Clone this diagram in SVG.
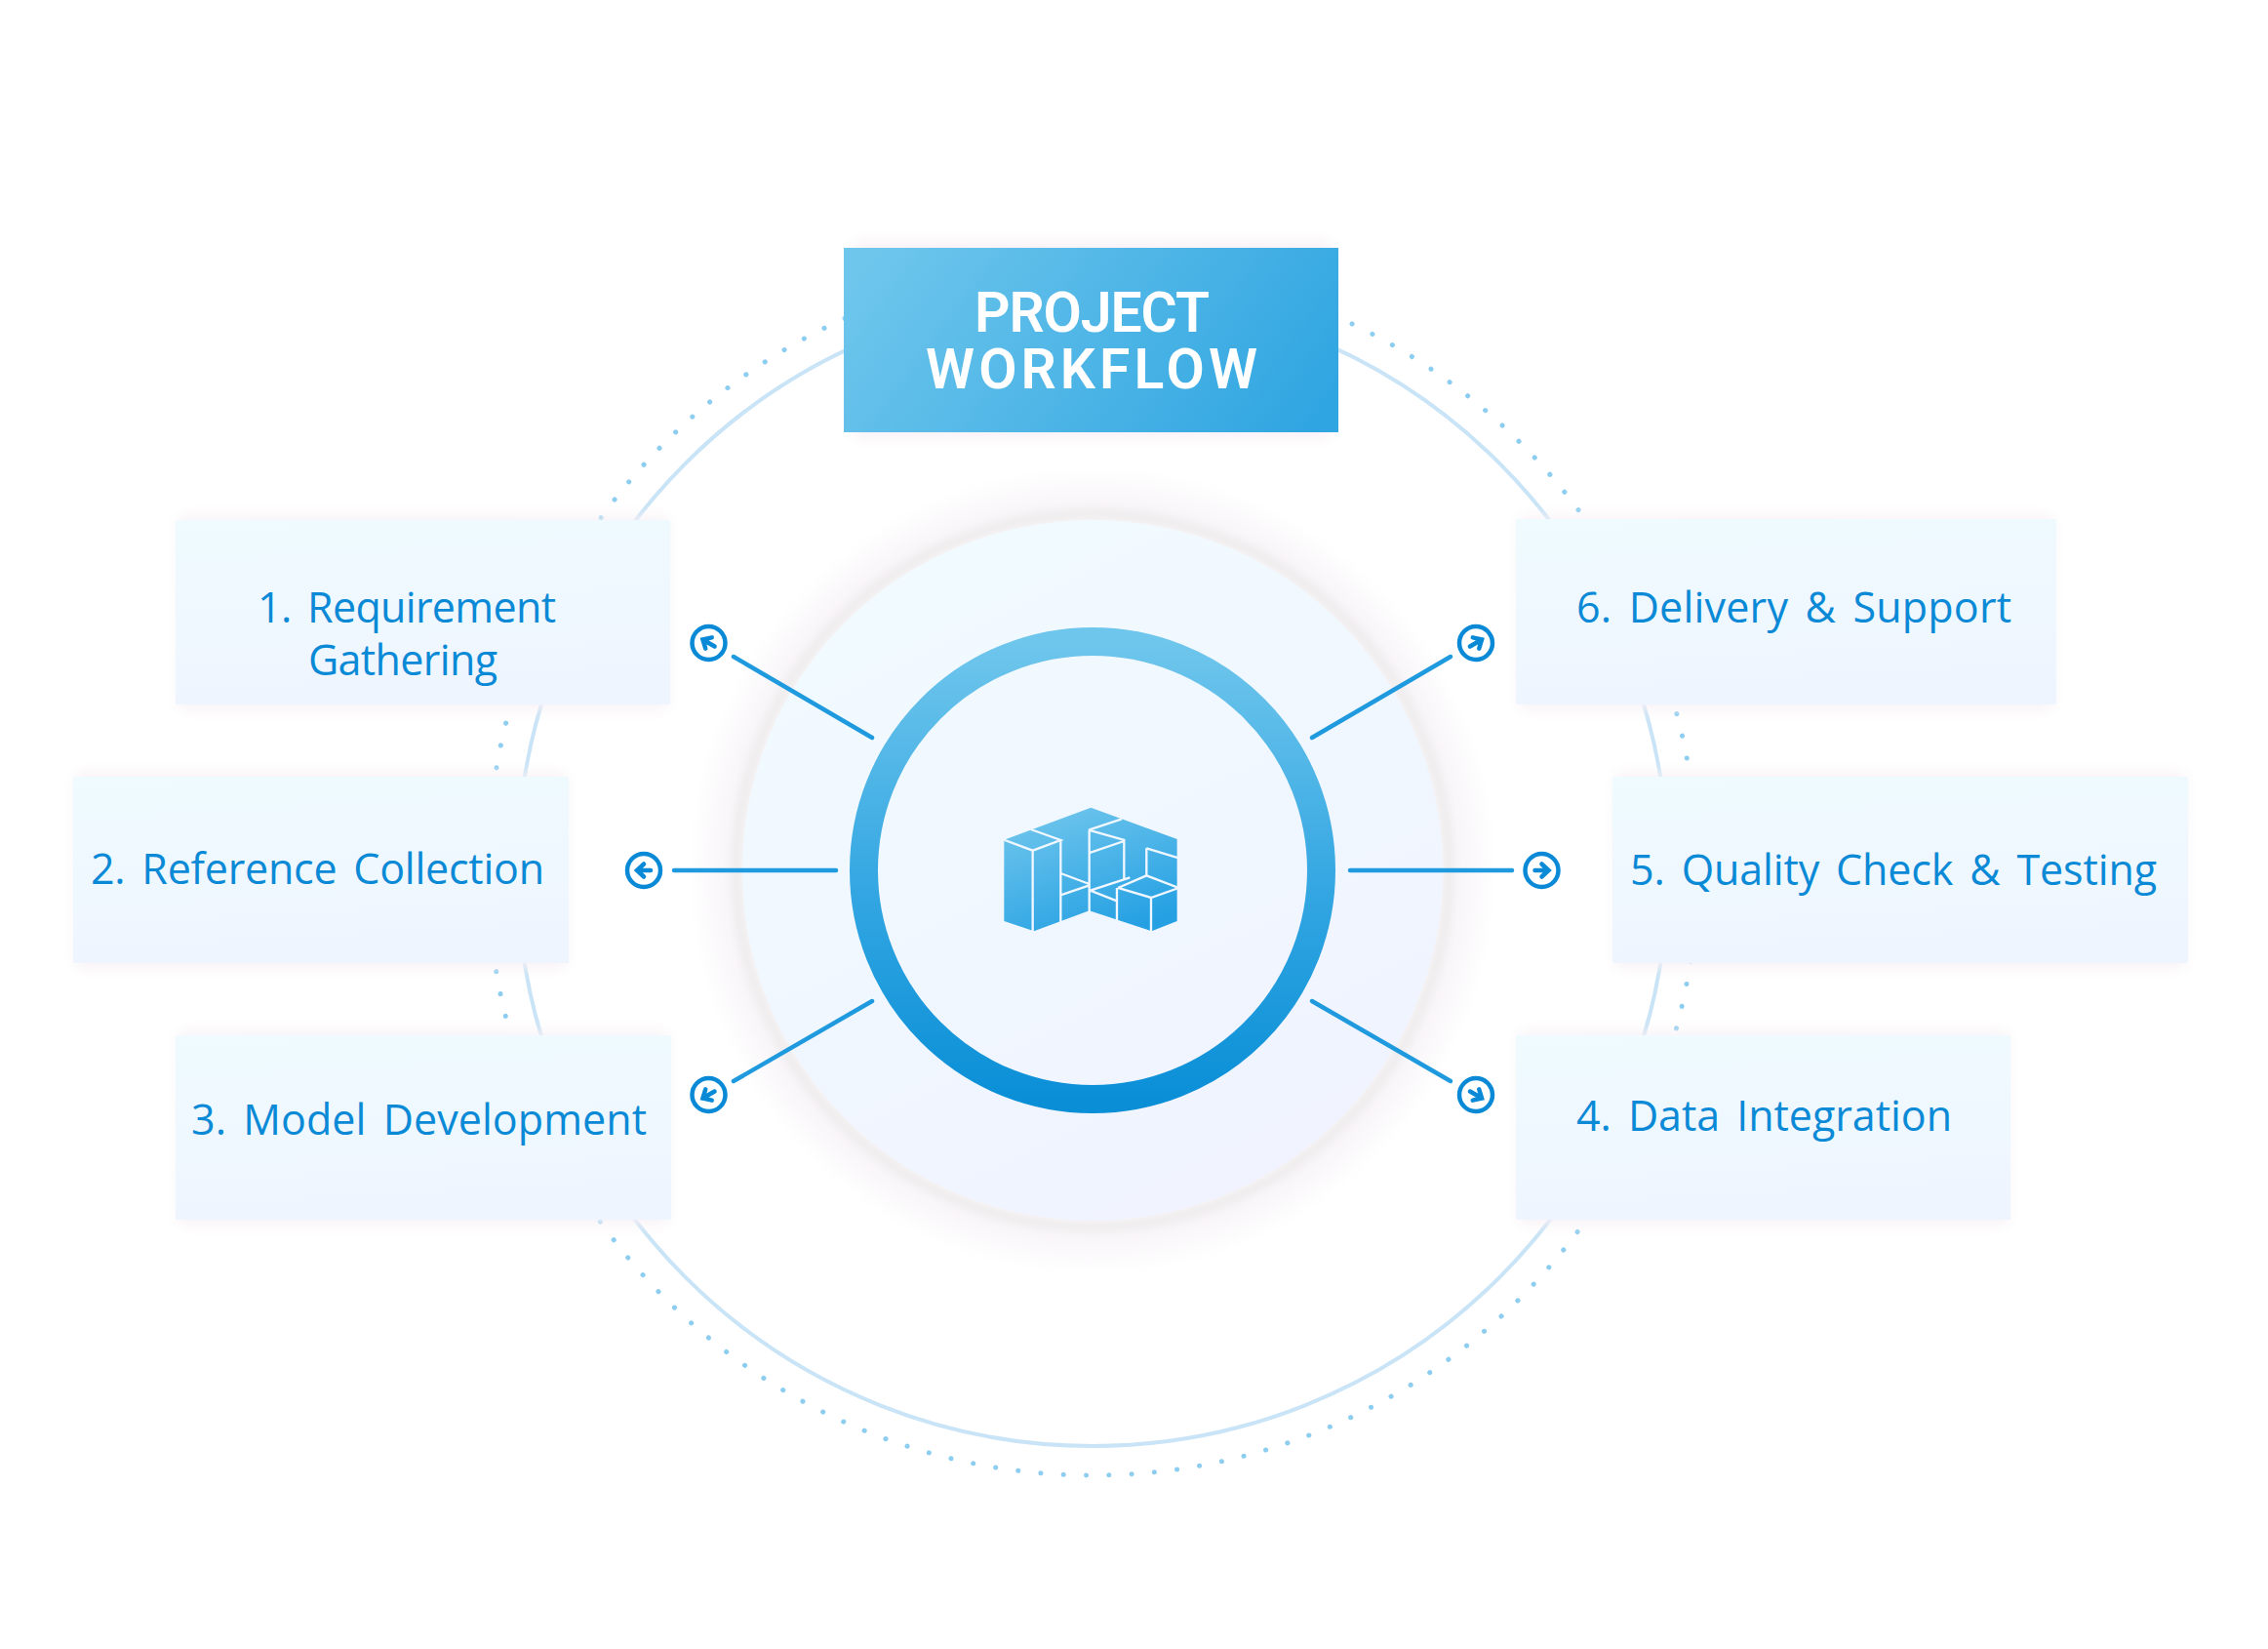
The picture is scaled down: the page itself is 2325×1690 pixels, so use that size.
<svg xmlns="http://www.w3.org/2000/svg" width="2325" height="1690" viewBox="0 0 2325 1690">
<style>
.lbl{font-family:"Open Sans","Noto Sans",sans-serif;font-size:43px;fill:#0a8ad6;font-weight:400;word-spacing:6px}
.ttl{font-family:Roboto,"Liberation Sans",sans-serif;font-size:57px;fill:#fff;font-weight:600}
.box{fill:url(#boxG)}
.shadow{fill:#f7f0f5;filter:url(#soft)}
.conn{stroke:#1f9ade;stroke-width:4.5;stroke-linecap:round;fill:none}
.tip{stroke:#0a8ad6;stroke-width:4.5;fill:#fff}
.arr{stroke:#0a8ad6;stroke-width:4.5;fill:none;stroke-linecap:round;stroke-linejoin:miter}
</style>
<defs>
<linearGradient id="boxG" x1="0" y1="0" x2="0.15" y2="1"><stop offset="0" stop-color="#effbff"/><stop offset="1" stop-color="#eff5ff"/></linearGradient>
<linearGradient id="headG" gradientUnits="userSpaceOnUse" x1="930" y1="210" x2="1310" y2="490"><stop offset="0" stop-color="#6ec6ec"/><stop offset="1" stop-color="#2fa5e1"/></linearGradient>
<linearGradient id="ringG" x1="0" y1="0" x2="0" y2="1"><stop offset="0" stop-color="#6fc6ec"/><stop offset="0.55" stop-color="#33a6e2"/><stop offset="1" stop-color="#0a8fd7"/></linearGradient>
<linearGradient id="discG" x1="0.2" y1="0" x2="0.7" y2="1"><stop offset="0" stop-color="#f1fbff"/><stop offset="1" stop-color="#f0f3ff"/></linearGradient>
<linearGradient id="iconG" x1="0.2" y1="0" x2="0.7" y2="1"><stop offset="0" stop-color="#70c6ec"/><stop offset="1" stop-color="#24a0e3"/></linearGradient>
<filter id="soft" x="-20%" y="-20%" width="140%" height="140%"><feGaussianBlur stdDeviation="7"/></filter>
<filter id="haloA" x="-20%" y="-20%" width="140%" height="140%"><feGaussianBlur stdDeviation="4"/></filter>
<filter id="haloB" x="-20%" y="-20%" width="140%" height="140%"><feGaussianBlur stdDeviation="12"/></filter>
<g id="arrow"><path class="arr" d="M-7 0H6M0-6.500L7 0L0 6.500"/></g>
</defs>
<rect width="2325" height="1690" fill="#fff"/>
<g id="orbit" fill="none">
<circle cx="1120" cy="892" r="620" stroke="#8ccdf0" stroke-width="5" stroke-linecap="round" stroke-dasharray="0.1 23.227" stroke-dashoffset="-0.5"/>
<circle cx="1120" cy="892" r="590" stroke="#c9e4f6" stroke-width="4"/>
</g>
<g id="center">
<circle cx="1120" cy="892" r="377" fill="none" stroke="#f9f6f9" stroke-width="38" filter="url(#haloB)"/>
<circle cx="1120" cy="892" r="365" fill="none" stroke="#f0edef" stroke-width="14" filter="url(#haloA)"/>
<circle cx="1120" cy="892" r="359" fill="url(#discG)"/>
<circle cx="1120" cy="892" r="234.500" fill="none" stroke="url(#ringG)" stroke-width="29"/>
<g id="icon" transform="translate(950 780) scale(.3333)">
<path fill="url(#iconG)" d="M238 242L505 143L770 240V492L692 523L500 460L330 523L238 492Z"/>
<path fill="none" stroke="#f0f7ff" stroke-width="7" d="M232 240L326 275L412 243L320 210M326 275V528M412 243V497M412 345L500 378M412 412L500 382M500 212V465M498 212L600 178M498 212L607 243V362M607 246L498 283M503 398L625 358M503 398L585 430M585 390V495M588 390L690 420L775 390L676 352L588 390M690 420V528M676 268L775 298M676 268V352"/>
</g>
</g>
<g id="connectors">
<line class="conn" x1="752" y1="673" x2="894" y2="756"/>
<line class="conn" x1="691" y1="892" x2="857" y2="892"/>
<line class="conn" x1="752" y1="1108" x2="894" y2="1026"/>
<line class="conn" x1="1345" y1="1026" x2="1487" y2="1108"/>
<line class="conn" x1="1384" y1="892" x2="1550" y2="892"/>
<line class="conn" x1="1345" y1="756" x2="1487" y2="673"/>
<g transform="translate(726.5 659)"><circle class="tip" r="17"/><use href="#arrow" transform="rotate(210)"/></g>
<g transform="translate(660 892)"><circle class="tip" r="17"/><use href="#arrow" transform="rotate(180)"/></g>
<g transform="translate(726.5 1122)"><circle class="tip" r="17"/><use href="#arrow" transform="rotate(150)"/></g>
<g transform="translate(1513 1122)"><circle class="tip" r="17"/><use href="#arrow" transform="rotate(30)"/></g>
<g transform="translate(1580.500 892)"><circle class="tip" r="17"/><use href="#arrow"/></g>
<g transform="translate(1513 659)"><circle class="tip" r="17"/><use href="#arrow" transform="rotate(-30)"/></g>
</g>
<g id="header">
<rect class="shadow" x="875" y="248" width="490" height="200"/>
<rect x="865" y="254" width="507" height="189" fill="url(#headG)"/>
<text class="ttl" x="999" y="340" textLength="241">PROJECT</text>
<text class="ttl" x="949" y="398" textLength="340">WORKFLOW</text>
</g>
<g id="node1">
<rect class="shadow" x="184" y="530" width="500" height="196"/>
<rect class="box" x="180" y="533" width="507" height="189"/>
<text class="lbl" x="264" y="638" textLength="306">1. Requirement</text>
<text class="lbl" x="316" y="692" textLength="194">Gathering</text>
</g>
<g id="node2">
<rect class="shadow" x="78" y="793" width="502" height="198"/>
<rect class="box" x="75" y="796" width="508" height="191"/>
<text class="lbl" x="93" y="906" textLength="465">2. Reference Collection</text>
</g>
<g id="node3">
<rect class="shadow" x="184" y="1058" width="500" height="196"/>
<rect class="box" x="180" y="1061" width="508" height="189"/>
<text class="lbl" x="196" y="1163" textLength="467">3. Model Development</text>
</g>
<g id="node4">
<rect class="shadow" x="1558" y="1058" width="500" height="196"/>
<rect class="box" x="1554" y="1061" width="507" height="189"/>
<text class="lbl" x="1616" y="1159" textLength="385">4. Data Integration</text>
</g>
<g id="node5">
<rect class="shadow" x="1657" y="793" width="582" height="198"/>
<rect class="box" x="1653" y="796" width="590" height="191"/>
<text class="lbl" x="1671" y="907" textLength="540">5. Quality Check &amp; Testing</text>
</g>
<g id="node6">
<rect class="shadow" x="1558" y="530" width="546" height="196"/>
<rect class="box" x="1554" y="532" width="554" height="190"/>
<text class="lbl" x="1616" y="638" textLength="446">6. Delivery &amp; Support</text>
</g>
</svg>
